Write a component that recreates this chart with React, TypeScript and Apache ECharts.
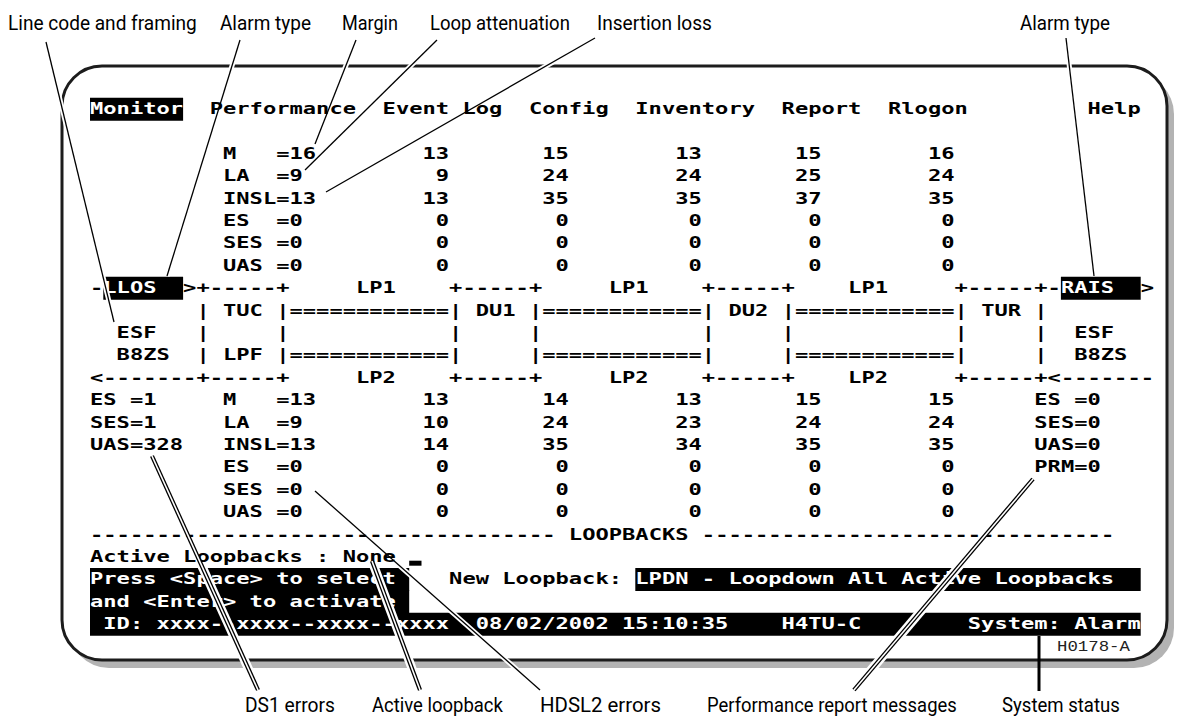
import React, { useEffect, useRef } from "react";
import * as echarts from "echarts";

// ---------------- DATA ----------------
const menuItems = ["Monitor", "Performance", "Event Log", "Config", "Inventory", "Report", "Rlogon"];
const helpItem = "Help";
const rowLabels = ["M   =", "LA  =", "INSL=", "ES  =", "SES =", "UAS ="];
const lp1Values = [
  [16, 13, 15, 13, 15, 16],
  [9, 9, 24, 24, 25, 24],
  [13, 13, 35, 35, 37, 35],
  [0, 0, 0, 0, 0, 0],
  [0, 0, 0, 0, 0, 0],
  [0, 0, 0, 0, 0, 0],
];
const lp2Values = [
  [13, 13, 14, 13, 15, 15],
  [9, 10, 24, 23, 24, 24],
  [13, 14, 35, 34, 35, 35],
  [0, 0, 0, 0, 0, 0],
  [0, 0, 0, 0, 0, 0],
  [0, 0, 0, 0, 0, 0],
];
const ds1Near = ["ES =1", "SES=1", "UAS=328"];
const ds1Far = ["ES =0", "SES=0", "UAS=0", "PRM=0"];
const nearAlarm = "LLOS";
const farAlarm = "RAIS";
const unitNames = ["TUC", "DU1", "DU2", "TUR"];
const lineCode = "ESF";
const framing = "B8ZS";
const loopNames = ["LP1", "LP2"];
const loopbackTitle = "LOOPBACKS";
const activeLoopbacks = "Active Loopbacks : None";
const helpLines = ["Press <Space> to select", "and <Enter> to activate"];
const newLoopbackLabel = "New Loopback:";
const newLoopback = "LPDN - Loopdown All Active Loopbacks";
const statusId = "ID: xxxx--xxxx--xxxx--xxxx";
const statusDate = "08/02/2002 15:10:35";
const unitType = "H4TU-C";
const systemStatus = "System: Alarm";
const figureId = "H0178-A";
const topCallouts = ["Line code and framing", "Alarm type", "Margin", "Loop attenuation", "Insertion loss", "Alarm type"];
const bottomCallouts = ["DS1 errors", "Active loopback", "HDSL2 errors", "Performance report messages", "System status"];

// ---------------- LAYOUT ----------------
const W = 1178;
const H = 721;
const CW = 13.3;
const X0 = 90;
const ROW0 = 153.5;
const PITCH = 22.4;
const MENU_Y = 109;
const FS = 22.1;
const SY = 0.72;
const MONO = "DejaVu Sans Mono";
const LABEL_FONT = "Roboto";
const LABEL_FS = 21;
const VALUE_END = [16, 26, 35, 45, 54, 64];

const sp = (n: number) => " ".repeat(n);
const eq = "=".repeat(12);

function valueRow(label: string, vals: number[]) {
  let s = sp(10) + label + String(vals[0]);
  for (let i = 1; i < vals.length; i++) {
    const v = String(vals[i]);
    s = s.padEnd(VALUE_END[i] + 1 - v.length) + v;
  }
  return s;
}

function buildRows(): string[] {
  const rows: string[] = [];
  for (let i = 0; i < 6; i++) rows.push(valueRow(rowLabels[i], lp1Values[i]));
  const box = "+-----+";
  rows.push(
    "-" + nearAlarm.padEnd(6) + ">" + box + sp(5) + loopNames[0] + sp(4) + box + sp(5) + loopNames[0] + sp(4) + box +
      sp(4) + loopNames[0] + sp(5) + box + "-" + farAlarm.padEnd(6) + ">"
  );
  rows.push(sp(8) + "| " + unitNames[0] + " |" + eq + "| " + unitNames[1] + " |" + eq + "| " + unitNames[2] + " |" + eq + "| " + unitNames[3] + " |");
  rows.push(sp(2) + lineCode + sp(3) + "|" + sp(5) + "|" + sp(12) + "|" + sp(5) + "|" + sp(12) + "|" + sp(5) + "|" + sp(12) + "|" + sp(5) + "|" + sp(2) + lineCode);
  rows.push(sp(2) + framing + sp(2) + "| LPF |" + eq + "|" + sp(5) + "|" + eq + "|" + sp(5) + "|" + eq + "|" + sp(5) + "|" + sp(2) + framing);
  rows.push(
    "<-------" + box + sp(5) + loopNames[1] + sp(4) + box + sp(5) + loopNames[1] + sp(4) + box + sp(4) + loopNames[1] + sp(5) + box + "<-------"
  );
  for (let i = 0; i < 6; i++) {
    let s = (ds1Near[i] || "").padEnd(10) + valueRow(rowLabels[i], lp2Values[i]).slice(10);
    if (ds1Far[i]) s = s.padEnd(71) + ds1Far[i];
    rows.push(s);
  }
  rows.push("-".repeat(35) + " " + loopbackTitle + " " + "-".repeat(31));
  rows.push(activeLoopbacks);
  rows.push(helpLines[0] + sp(4) + newLoopbackLabel + " " + newLoopback);
  rows.push(helpLines[1]);
  rows.push(" " + statusId + sp(2) + statusDate + sp(4) + unitType + sp(8) + systemStatus);
  return rows;
}

const highlights: Record<number, number[][]> = {
  6: [[1, 6], [73, 78]],
  19: [[0, 23], [41, 78]],
  20: [[0, 23]],
  21: [[0, 78]],
};

const rowY = (r: number) => ROW0 + r * PITCH;

function termText(text: string, col: number, y: number, fill: string) {
  return {
    type: "text",
    x: X0 + col * CW,
    y,
    scaleY: SY,
    z: 5,
    silent: true,
    style: {
      text,
      fill,
      fontSize: FS,
      fontFamily: MONO,
      fontWeight: "bold",
      textAlign: "left",
      textVerticalAlign: "middle",
    },
  };
}

function lineText(line: string, y: number, hl: number[][] | undefined, out: any[]) {
  const segs: [number, number, boolean][] = [];
  let cur = 0;
  const ranges = (hl || []).slice().sort((a, b) => a[0] - b[0]);
  for (const [a, b] of ranges) {
    if (a > cur) segs.push([cur, a - 1, false]);
    segs.push([a, b, true]);
    cur = b + 1;
  }
  if (cur < line.length) segs.push([cur, line.length - 1, false]);
  for (const [a, b, inv] of segs) {
    const part = line.slice(a, b + 1);
    const re = /\S+(?: \S+)*/g;
    let m: RegExpExecArray | null;
    while ((m = re.exec(part))) {
      out.push(termText(m[0], a + m.index, y, inv ? "#fff" : "#000"));
    }
  }
}

function hlRect(c0: number, c1: number, yc: number) {
  return {
    type: "rect",
    z: 3,
    silent: true,
    shape: { x: X0 + c0 * CW, y: yc - PITCH / 2, width: (c1 - c0 + 1) * CW, height: PITCH + 0.6 },
    style: { fill: "#000" },
  };
}

let measureCtx: CanvasRenderingContext2D | null = null;
function measure(text: string, font: string) {
  if (!measureCtx) measureCtx = document.createElement("canvas").getContext("2d");
  measureCtx!.font = font;
  return measureCtx!.measureText(text).width;
}

function fitLabel(text: string, x0: number, x1: number, y: number) {
  const w = measure(text, `${LABEL_FS}px ${LABEL_FONT}`);
  return {
    type: "text",
    x: x0,
    y,
    scaleX: (x1 - x0) / w,
    z: 8,
    silent: true,
    style: {
      text,
      fill: "#000",
      fontSize: LABEL_FS,
      fontFamily: LABEL_FONT,
      textAlign: "left",
      textVerticalAlign: "middle",
    },
  };
}

function seg(x1: number, y1: number, x2: number, y2: number, stroke: string, lw: number, z: number) {
  return { type: "line", z, silent: true, shape: { x1, y1, x2, y2 }, style: { stroke, lineWidth: lw, lineCap: "butt" } };
}

// halos sit above frame & boxes but below the terminal text
function singleCallout(p: number[], out: any[]) {
  out.push(seg(p[0], p[1], p[2], p[3], "#fff", 5, 4));
  out.push(seg(p[0], p[1], p[2], p[3], "#000", 1.3, 7));
}
function doubleCallout(p: number[], out: any[]) {
  out.push(seg(p[0], p[1], p[2], p[3], "#fff", 9, 4));
  out.push(seg(p[0], p[1], p[2], p[3], "#000", 4.2, 7));
  out.push(seg(p[0], p[1], p[2], p[3], "#fff", 1.6, 7));
}

function buildElements() {
  const els: any[] = [];
  const fx = 62, fy = 66, fw = 1105, fh = 594, fr = 40;
  els.push({ type: "rect", z: 1, silent: true, shape: { x: fx + 7, y: fy + 8, width: fw, height: fh, r: fr }, style: { fill: "#b3b3b3" } });
  els.push({ type: "rect", z: 2, silent: true, shape: { x: fx, y: fy, width: fw, height: fh, r: fr }, style: { fill: "#fff", stroke: "#1c1c1c", lineWidth: 3 } });

  // menu
  const menuLine = menuItems.join("  ").padEnd(75) + helpItem;
  els.push(hlRect(0, menuItems[0].length - 1, MENU_Y));
  lineText(menuLine, MENU_Y, [[0, menuItems[0].length - 1]], els);

  const rows = buildRows();
  rows.forEach((line, r) => {
    const y = rowY(r);
    const hl = highlights[r];
    if (hl) hl.forEach(([a, b]) => els.push(hlRect(a, b, y)));
    lineText(line, y, hl, els);
  });
  // cursor
  els.push({ type: "rect", z: 5, silent: true, shape: { x: X0 + 24 * CW, y: rowY(18) + 4, width: CW - 1, height: 5 }, style: { fill: "#000" } });

  // figure id
  const fidW = measure(figureId, `14px "Liberation Mono"`);
  els.push({
    type: "text", x: 1057, y: 647, scaleX: 73 / fidW, z: 5, silent: true,
    style: { text: figureId, fill: "#222", fontSize: 14, fontFamily: "Liberation Mono", textAlign: "left", textVerticalAlign: "middle" },
  });

  // callout lines
  singleCallout([46, 42, 114, 322], els);
  singleCallout([240, 40, 167, 276], els);
  singleCallout([356, 40, 315, 144], els);
  singleCallout([437, 40, 305, 170], els);
  singleCallout([595, 38, 326, 192], els);
  singleCallout([1066, 38, 1094, 276], els);
  singleCallout([315, 491, 540, 690], els);
  doubleCallout([152, 456, 258, 690], els);
  doubleCallout([372, 561, 420, 690], els);
  doubleCallout([1033, 479, 854, 690], els);
  els.push(seg(1039, 636, 1039, 691, "#000", 3, 7));

  // labels
  const topX = [[8, 197], [220, 311], [342, 398], [430, 570], [597, 712], [1020, 1110]];
  topCallouts.forEach((t, i) => els.push(fitLabel(t, topX[i][0], topX[i][1], 23)));
  const botX = [[245, 335], [372, 503], [540, 661], [707, 957], [1002, 1120]];
  bottomCallouts.forEach((t, i) => els.push(fitLabel(t, botX[i][0], botX[i][1], 705)));
  return els;
}

export default function App() {
  const ref = useRef<HTMLDivElement>(null);
  useEffect(() => {
    document.body.style.margin = "0";
    const chart = echarts.init(ref.current!, null, { renderer: "svg", width: W, height: H });
    chart.setOption({
      animation: false,
      backgroundColor: "#fff",
      graphic: { elements: buildElements() },
    });
    return () => chart.dispose();
  }, []);
  return <div ref={ref} style={{ position: "absolute", left: 0, top: 0, width: W, height: H, background: "#fff" }} />;
}
